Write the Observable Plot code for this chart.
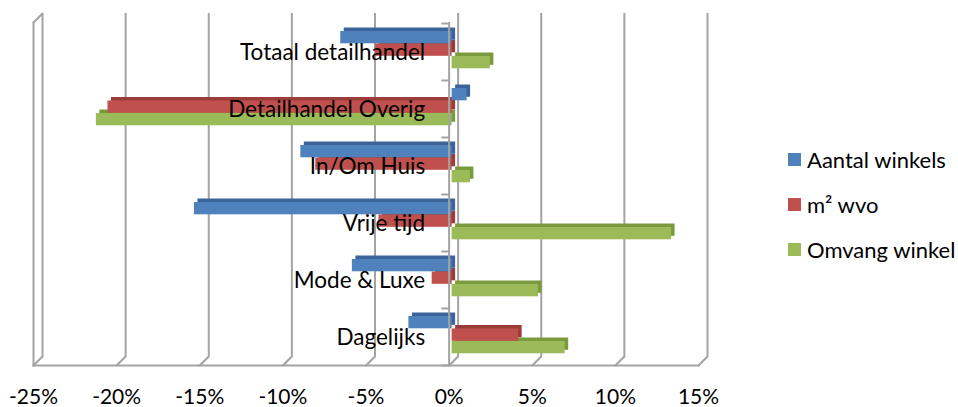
<!DOCTYPE html>
<html>
<head>
<meta charset="utf-8">
<script src="https://cdn.jsdelivr.net/npm/d3@7"></script>
<script src="https://cdn.jsdelivr.net/npm/@observablehq/plot@0.6"></script>
<style>
  html, body { margin: 0; padding: 0; background: #fff; }
  #wrap { display: flex; width: 958px; height: 407px; font-family: Lato, "Open Sans", sans-serif; }
  #legend { padding-top: 146px; padding-left: 8px; }
  .item { display: flex; align-items: center; height: 26px; margin-bottom: 19px; font-size: 22px; color: #000; white-space: nowrap; }
  .sw { width: 13px; height: 13px; margin-right: 6px; flex: none; }
</style>
</head>
<body>
<div id="wrap"><div id="chart"></div><div id="legend"></div></div>
<script>
const categories = ["Totaal detailhandel", "Detailhandel Overig", "In/Om Huis", "Vrije tijd", "Mode & Luxe", "Dagelijks"];
const seriesNames = ["Aantal winkels", "m² wvo", "Omvang winkel"];
const aantalWinkels = [-6.7, 0.9, -9.1, -15.5, -6.0, -2.6];
const m2Wvo = [-4.6, -20.7, -8.2, -4.4, -1.2, 4.0];
const omvangWinkel = [2.3, -21.4, 1.1, 13.2, 5.2, 6.8];
const xTicks = [-25, -20, -15, -10, -5, 0, 5, 10, 15];

const colors = ["#4F81BD", "#C0504D", "#9BBB59"];
const darkColors = ["#3B659A", "#9C3C39", "#7A9A3E"];
const seriesValues = [aantalWinkels, m2Wvo, omvangWinkel];

const rows = [];
seriesNames.forEach((s, si) => categories.forEach((c, ci) => rows.push({series: s, si, category: c, value: seriesValues[si][ci]})));

const grid = "#a3a3a3";
const line = {draw(ctx, l) { ctx.moveTo(0, 0); ctx.lineTo(0, -l); }};

// bar placement inside each category band (top inset, bottom inset)
const insets = [[8, 36.7], [20.5, 24.2], [33, 11.7]];

const barMarks = [];
for (let si = 2; si >= 0; si--) {
  const sub = rows.filter(r => r.si === si);
  barMarks.push(Plot.barX(sub, {x: "value", y: "category", fill: darkColors[si], insetTop: insets[si][0], insetBottom: insets[si][1], dx: 6.5, dy: -3.5}));
  barMarks.push(Plot.barX(sub, {x: "value", y: "category", fill: colors[si], insetTop: insets[si][0], insetBottom: insets[si][1], dx: 3}));
}

const chart = Plot.plot({
  width: 780,
  height: 407,
  marginLeft: 33,
  marginRight: 82,
  marginTop: 22,
  marginBottom: 42,
  style: {fontFamily: "Lato, 'Open Sans', sans-serif", fontSize: "20px", color: "#000", background: "#fff"},
  x: {domain: [-25, 15], label: null},
  y: {domain: categories, padding: 0, axis: null},
  marks: [
    Plot.ruleX(xTicks, {x: d => d, dx: 9, dy: -9, stroke: grid, strokeWidth: 2}),
    Plot.vector(xTicks, {x: d => d, frameAnchor: "bottom", length: 12.7, rotate: 45, anchor: "start", shape: line, stroke: grid, strokeWidth: 2}),
    Plot.vector([-25], {x: d => d, frameAnchor: "top", length: 12.7, rotate: 45, anchor: "start", shape: line, stroke: grid, strokeWidth: 2}),
    Plot.frame({anchor: "left", stroke: grid, strokeWidth: 2}),
    Plot.frame({anchor: "bottom", stroke: grid, strokeWidth: 2}),
    ...barMarks,
    Plot.ruleX([0], {stroke: grid, strokeWidth: 2}),
    Plot.vector(categories, {y: d => d, x: () => 0, dy: -343 / 12, length: 7, rotate: -90, anchor: "start", shape: line, stroke: grid, strokeWidth: 2}),
    Plot.vector([0], {x: d => d, frameAnchor: "bottom", length: 7, rotate: -90, anchor: "start", shape: line, stroke: grid, strokeWidth: 2}),
    Plot.text(categories, {y: d => d, x: () => 0, text: d => d, dx: -24, dy: 1, textAnchor: "end", fill: "#000", fontSize: 22.5}),
    Plot.axisX(xTicks, {tickSize: 0, tickPadding: 24, tickFormat: d => d + "%", fontSize: 21, fill: "#000", label: null})
  ]
});
document.getElementById("chart").appendChild(chart);

const legend = document.getElementById("legend");
seriesNames.forEach((s, i) => {
  const it = document.createElement("div");
  it.className = "item";
  const sw = document.createElement("span");
  sw.className = "sw";
  sw.style.background = colors[i];
  const tx = document.createElement("span");
  tx.textContent = s;
  it.appendChild(sw); it.appendChild(tx);
  legend.appendChild(it);
});
</script>
</body>
</html>
